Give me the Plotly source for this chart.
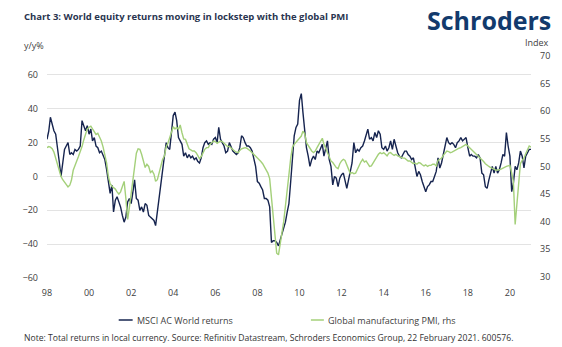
import pandas as pd
import plotly.graph_objects as go

# ---------------- data (monthly, Jan 1998 - Jan 2021) ----------------
start_month = "1998-01-01"

msci_returns = [
    22, 27, 35, 31, 27, 25, 18, 9, 0, 8, 16, 18,
    20, 13, 14, 13, 16, 15, 16, 18, 33, 30, 27, 30,
    25, 28, 21, 23, 18, 17, 14, 15, 12, 10, 4, -3,
    -10, -5, -21, -14, -12, -15, -18, -23, -27, -24, -15, -13,
    -16, -9, -2, -13, -14, -20, -18, -21, -16, -17, -23, -24,
    -25, -26, -29, -20, -14, -4, 5, 12, 20, 17, 16, 28,
    36, 38, 33, 23, 21, 19, 12, 14, 11, 13, 11, 12,
    10, 11, 9, 8, 11, 17, 20, 21, 19, 20, 19, 22,
    23, 20, 29, 22, 20, 18, 14, 15, 20, 17, 15, 14,
    13, 14, 17, 24, 23, 20, 18, 18, 17, 15, 10, 6,
    -3, -4, -6, -8, -13, -13, -14, -18, -39, -38, -38, -39,
    -41, -37, -34, -31, -27, -21, -16, -3, 12, 24, 29, 31,
    45, 49, 38, 27, 17, 12, 6, 10, 12, 10, 15, 14,
    17, 19, 12, 16, 21, 10, 6, -5, 0, -1, -6, -1,
    1, 2, -2, -7, -2, 3, 8, 20, 14, 16, 15, 17,
    18, 21, 25, 28, 22, 23, 21, 26, 23, 27, 25, 17,
    16, 18, 15, 17, 21, 16, 22, 17, 14, 12, 11, 13,
    15, 15, 13, 12, 10, 11, 5, 0, 3, 1, -3, -6,
    -9, -6, -5, -3, -3, 0, 3, 11, 5, 8, 13, 17,
    23, 20, 19, 20, 19, 17, 20, 21, 23, 21, 22, 23,
    17, 12, 13, 12, 12, 11, 13, 11, 2, 1, -6, -7,
    -2, 2, 6, 2, 6, 2, 4, 8, 13, 12, 26, 18,
    12, -9, -4, 6, 4, 8, 15, 12, 5, 12, 14, 16,
    16,
]

global_pmi = [
    53.4, 53.6, 53.5, 53.2, 52.6, 51.5, 50.0, 49.0, 48.2, 47.6, 47.2, 46.8,
    46.3, 46.6, 47.5, 49.3, 50.3, 51.0, 51.8, 52.6, 53.6, 54.8, 56.0, 56.8,
    57.1, 57.3, 56.8, 56.3, 55.8, 56.0, 55.4, 54.6, 53.5, 52.0, 50.6, 48.2,
    46.9, 46.4, 46.2, 45.9, 45.4, 45.0, 45.4, 46.6, 47.3, 44.2, 40.4, 42.6,
    45.2, 47.9, 50.7, 52.4, 53.2, 53.1, 52.2, 50.7, 49.8, 50.4, 50.0, 48.9,
    49.2, 48.6, 47.3, 47.6, 48.9, 50.0, 51.3, 51.9, 53.6, 54.2, 55.2, 56.6,
    57.2, 56.8, 57.1, 56.7, 57.5, 56.1, 55.0, 54.9, 54.0, 53.2, 53.0, 52.8,
    52.8, 52.5, 52.0, 51.4, 51.8, 52.5, 53.1, 53.4, 53.4, 54.0, 54.3, 54.6,
    54.5, 54.2, 54.4, 54.6, 54.5, 54.2, 54.0, 53.6, 53.6, 53.3, 53.0, 52.8,
    52.6, 52.5, 52.9, 53.2, 53.3, 53.4, 53.3, 53.1, 52.8, 52.5, 52.2, 51.9,
    51.6, 51.3, 50.9, 50.5, 49.9, 49.4, 48.8, 47.8, 44.5, 40.8, 37.0, 34.3,
    34.0, 35.8, 38.0, 40.0, 42.8, 45.2, 48.5, 51.5, 53.5, 54.0, 54.4, 54.9,
    55.2, 55.5, 56.4, 55.9, 54.3, 53.7, 53.3, 52.8, 52.5, 52.8, 53.4, 54.0,
    54.6, 55.1, 54.0, 53.2, 52.6, 51.5, 51.0, 50.7, 50.1, 49.8, 49.6, 50.5,
    51.0, 51.3, 51.1, 50.2, 49.5, 48.7, 48.9, 48.7, 48.8, 49.5, 50.0, 50.8,
    51.3, 50.8, 51.0, 50.4, 50.0, 50.1, 50.7, 51.3, 51.7, 52.2, 52.5, 52.3,
    52.5, 52.2, 51.9, 52.4, 52.5, 52.2, 52.0, 52.2, 51.9, 51.8, 51.6, 51.5,
    51.5, 51.3, 51.0, 51.0, 50.7, 50.5, 50.6, 50.4, 50.7, 50.6, 50.3, 50.1,
    50.3, 50.0, 50.2, 50.2, 50.4, 50.4, 50.1, 51.1, 51.3, 51.5, 52.0, 52.4,
    52.8, 52.7, 52.5, 52.6, 52.8, 52.9, 53.1, 53.3, 53.4, 53.6, 53.8, 54.0,
    53.7, 53.4, 53.1, 52.7, 52.4, 52.1, 51.8, 51.5, 51.3, 50.9, 50.5, 50.2,
    50.0, 49.8, 49.7, 49.5, 49.3, 49.3, 49.4, 49.5, 49.7, 49.8, 50.0, 50.1,
    50.2, 48.8, 47.3, 39.5, 43.5, 48.0, 50.5, 51.1, 51.5, 52.3, 53.2, 53.7,
    53.5,
]

x_tick_years = [1998, 2000, 2002, 2004, 2006, 2008, 2010, 2012, 2014, 2016, 2018, 2020]
x_tick_labels = ["98", "00", "02", "04", "06", "08", "10", "12", "14", "16", "18", "20"]
left_ticks = [-60, -40, -20, 0, 20, 40, 60]
right_ticks = [30, 35, 40, 45, 50, 55, 60, 65, 70]

series_names = ["MSCI AC World returns", "Global manufacturing PMI, rhs"]

# ---------------- styling ----------------
NAVY = "#16244f"
GREEN = "#a4d07a"
TEXT = "#404040"
FONT = "Open Sans"

dates = pd.date_range(start_month, periods=len(msci_returns), freq="MS")

fig = go.Figure()
fig.add_trace(go.Scatter(x=dates, y=global_pmi, name=series_names[1], yaxis="y2",
                         mode="lines", line=dict(color=GREEN, width=1.4),
                         showlegend=False))
fig.add_trace(go.Scatter(x=dates, y=msci_returns, name=series_names[0],
                         mode="lines", line=dict(color=NAVY, width=1.4),
                         showlegend=False))

W, H = 562, 347
L, R, T, B = 47, 29, 56, 69

fig.update_layout(
    width=W, height=H,
    margin=dict(l=L, r=R, t=T, b=B, pad=0),
    paper_bgcolor="white", plot_bgcolor="white",
    font=dict(family=FONT, size=9, color=TEXT),
    xaxis=dict(
        range=[pd.Timestamp("1998-01-01"), pd.Timestamp("2021-01-01")],
        tickvals=[pd.Timestamp(f"{y}-01-01") for y in x_tick_years],
        ticktext=x_tick_labels,
        showgrid=False, zeroline=False, showline=False, ticks="",
        ticklabelstandoff=8,
        tickfont=dict(size=9, color=TEXT),
    ),
    yaxis=dict(
        range=[-60, 71.2],
        tickvals=left_ticks,
        showgrid=True, gridcolor="#e3e3e3", gridwidth=1,
        zeroline=False, showline=False, ticks="",
        ticklabelstandoff=8,
        tickfont=dict(size=9, color=TEXT),
    ),
    yaxis2=dict(
        range=[29.8, 70],
        tickvals=right_ticks,
        overlaying="y", side="right",
        showgrid=False, zeroline=False, showline=False, ticks="",
        ticklabelstandoff=8,
        tickfont=dict(size=9, color=TEXT),
    ),
)

annotations = [
    dict(text="<b>Chart 3: World equity returns moving in lockstep with the global PMI</b>",
         x=22, y=H - 16, font=dict(size=9.5, color="#2a3550")),
    dict(text="<b>Schroders</b>", x=427, y=H - 20, font=dict(size=25, color="#123a6c")),
    dict(text="y/y%", x=22, y=H - 45, font=dict(size=9, color=TEXT)),
    dict(text="Index", x=553, y=H - 43, font=dict(size=9, color=TEXT), xanchor="right"),
    dict(text=series_names[0], x=135, y=H - 320, font=dict(size=9, color=TEXT)),
    dict(text=series_names[1], x=327, y=H - 320, font=dict(size=9, color=TEXT)),
    dict(text="Note: Total returns in local currency. Source: Refinitiv Datastream, "
              "Schroders Economics Group, 22 February 2021. 600576.",
         x=22, y=H - 338, font=dict(size=8.6, color="#333333")),
]
for a in annotations:
    a.setdefault("xanchor", "left")
    fig.add_annotation(xref="paper", yref="paper",
                       x=(a.pop("x") - L) / (W - L - R),
                       y=(a.pop("y") - B) / (H - T - B),
                       yanchor="middle", showarrow=False, **a)

for (x0, x1, col) in [(119, 133, NAVY), (312, 325, GREEN)]:
    fig.add_shape(type="line", xref="paper", yref="paper",
                  x0=(x0 - L) / (W - L - R), x1=(x1 - L) / (W - L - R),
                  y0=(H - 320 - B) / (H - T - B), y1=(H - 320 - B) / (H - T - B),
                  line=dict(color=col, width=1.5))

fig.write_html("out.html")
